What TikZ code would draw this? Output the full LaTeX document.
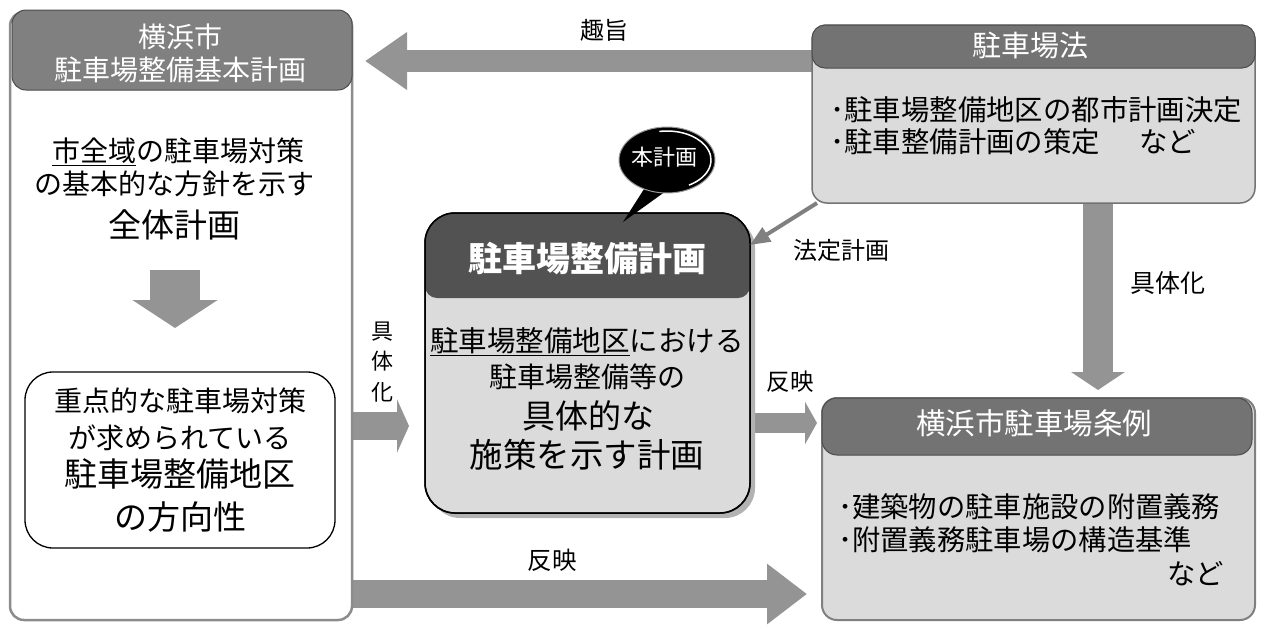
\documentclass[tikz,border=0pt]{standalone}
\usepackage{fontspec}
\newfontfamily\jp{Noto Sans CJK JP}
\usetikzlibrary{arrows.meta,shapes.geometric}
\pgfdeclarelayer{back}
\pgfsetlayers{back,main}
\colorlet{headgray}{black!55}
\colorlet{lheadgray}{black!50}
\colorlet{planhead}{black!68}
\colorlet{bodygray}{black!14}
\colorlet{arrowgray}{black!42}
\newcommand\fs[1]{\fontsize{#1}{#1}\selectfont}
\begin{document}
\begin{tikzpicture}[x=1pt,y=-1pt,
  every node/.style={font=\jp\fs{28}, inner sep=0pt},
  box/.style={rectangle, anchor=north west, inner sep=0pt, outer sep=0pt},
  htext/.style={text=white},
  fat/.style={draw=arrowgray, line cap=butt}]
\useasboundingbox (0,0) rectangle (1265,627);

% ---------- left box ----------
\node[box, minimum width=342pt, minimum height=608pt, fill=white, draw=black!45,
      line width=2.5pt, rounded corners=14pt] (left) at (10,12) {};
\node[box, minimum width=340pt, minimum height=80pt, fill=lheadgray, draw=black!70,
      line width=1pt, rounded corners=14pt] (lefthead) at (12,10) {};
\node[htext] (lh1) at (180,37) {横浜市};
\node[htext] (lh2) at (180,70) {駐車場整備基本計画};
\node (l1) at (178,152) {\underline{市全域}の駐車場対策};
\node (l2) at (174,184) {の基本的な方針を示す};
\node[font=\jp\fs{33}] (l3) at (174,225) {全体計画};
\coordinate (d1) at (175,270);
\coordinate (d2) at (175,328);
\draw[fat, line width=50pt, -{Triangle[width=84pt,length=28pt]}] (d1) -- (d2);
\node[box, minimum width=310pt, minimum height=176pt, draw=black, line width=1.3pt,
      rounded corners=28pt] (inner) at (25,372) {};
\node (i1) at (180,401) {重点的な駐車場対策};
\node (i2) at (180,438) {が求められている};
\node[font=\jp\fs{33}] (i3) at (180,474) {駐車場整備地区};
\node[font=\jp\fs{33}] (i4) at (180,517) {の方向性};

% ---------- plan box ----------
\fill[black!30, rounded corners=30pt] (430,218) rectangle (755,518);
\node[box, minimum width=325pt, minimum height=300pt, fill=bodygray, draw=black,
      line width=1.5pt, rounded corners=30pt] (plan) at (425,213) {};
\begin{scope}
  \clip[rounded corners=30pt] (plan.north west) rectangle (plan.south east);
  \fill[planhead, rounded corners=12pt] ([yshift=20pt]plan.north west) rectangle (750,298);
\end{scope}
\draw[black, line width=1.5pt, rounded corners=30pt] (plan.north west) rectangle (plan.south east);
\node[htext, font=\jp\fs{34}\bfseries] (ph) at (587,259) {駐車場整備計画};
\node[font=\jp\fs{28.5}] (p1) at (587,342) {\underline{駐車場整備地区}における};
\node (p2) at (587,377) {駐車場整備等の};
\node[font=\jp\fs{33}] (p3) at (588,416) {具体的な};
\node[font=\jp\fs{33.5}] (p4) at (587,455) {施策を示す計画};

% ---------- bubble ----------
\fill[black] (646,186) -- (623,222) -- (666,191) -- cycle;
\node[ellipse, minimum width=96pt, minimum height=66pt, fill=black, draw=black!40,
      line width=1pt] (bubble) at (667,160) {};
\draw[white, line width=1.5pt] (bubble.center) ++(60:44 and 29)
      arc[start angle=60, end angle=-100, x radius=44, y radius=29];
\node[text=white, font=\jp\fs{22}] (bt) at (664,157) {本計画};

% ---------- law box ----------
\node[box, minimum width=443pt, minimum height=178pt, fill=bodygray, draw=black!55,
      line width=1.5pt, rounded corners=15pt] (law) at (812,25) {};
\node[box, minimum width=443pt, minimum height=43pt, fill=headgray, draw=black!70,
      line width=1pt, rounded corners=13pt] (lawhead) at (812,25) {};
\node[htext, font=\jp\fs{29}] (lawt) at (1030,45) {駐車場法};
\node[anchor=west, font=\jp\fs{28.4}] (law1) at (830,110) {･駐車場整備地区の都市計画決定};
\node[anchor=west, font=\jp\fs{28.4}] (law2) at (830,142) {･駐車整備計画の策定\hspace{39pt}など};

% ---------- ordinance box ----------
\node[box, minimum width=433pt, minimum height=222pt, fill=bodygray, draw=black!50,
      line width=2pt, rounded corners=15pt] (ord) at (822,398) {};
\node[box, minimum width=430pt, minimum height=57pt, fill=headgray, draw=black!70,
      line width=1pt, rounded corners=15pt] (ordhead) at (822,398) {};
\node[htext, font=\jp\fs{29.5}] (ordt) at (1034,423) {横浜市駐車場条例};
\node[anchor=west, font=\jp\fs{28.3}] (o1) at (838,507) {･建築物の駐車施設の附置義務};
\node[anchor=west, font=\jp\fs{28.3}] (o2) at (838,540) {･附置義務駐車場の構造基準};
\node[anchor=east, font=\jp\fs{28.3}] (o3) at (1224,574) {など};

% ---------- connectors ----------
\begin{pgfonlayer}{back}
\draw[fat, line width=22pt, -{Triangle[width=55pt,length=42pt]}]
  (law.west |- 0,61) -- ([xshift=13pt]left.east |- 0,61);
\draw[fat, line width=28pt, -{Triangle[width=53pt,length=12pt]}]
  (left.east |- 0,426) -- ([xshift=-16pt]plan.west |- 0,426);
\draw[fat, line width=20pt, -{Triangle[width=42pt,length=12pt]}]
  (plan.east |- 0,423) -- ([xshift=-5pt]ord.west |- 0,423);
\draw[fat, line width=28pt, -{Triangle[width=58pt,length=40pt]}]
  (left.east |- 0,594) -- ([xshift=-15pt]ord.west |- 0,594);
\draw[fat, line width=30pt, -{Triangle[width=53pt,length=18pt]}]
  (law.south -| 1098,0) -- ([yshift=8pt]ord.north -| 1098,0);
\end{pgfonlayer}
\draw[draw=black!50, line width=4pt, -{Triangle[width=16pt,length=20pt]}]
  ([xshift=5pt]law.south west) -- ([yshift=-32pt]plan.north east);

% ---------- labels ----------
\node[font=\jp\fs{24}] (zs) at (604,30) {趣旨};
\node[font=\jp\fs{24}] (hc) at (841,250) {法定計画};
\node[font=\jp\fs{25}] (gt) at (1168,283) {具体化};
\node[font=\jp\fs{23.5}] (hy1) at (790,382) {反映};
\node[font=\jp\fs{24.5}] (hy2) at (552,560) {反映};
\node[font=\jp\fontsize{22}{30.5}\selectfont, align=center] (gv) at (382,362) {具\\体\\化};
\end{tikzpicture}
\end{document}
